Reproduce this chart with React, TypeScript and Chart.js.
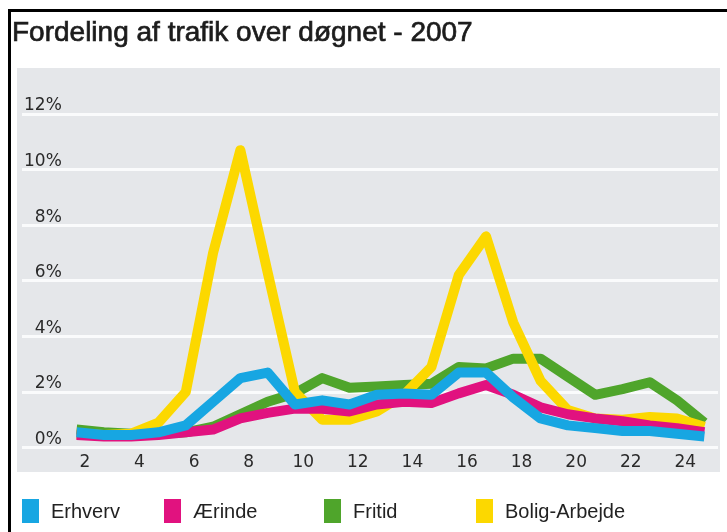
import React, { useEffect, useRef } from "react";
import { Chart, registerables } from "chart.js";

Chart.register(...registerables);

const TITLE = "Fordeling af trafik over døgnet - 2007";
const hours = [1, 2, 3, 4, 5, 6, 7, 8, 9, 10, 11, 12, 13, 14, 15, 16, 17, 18, 19, 20, 21, 22, 23, 24];
const seriesNames = ["Erhverv", "Ærinde", "Fritid", "Bolig-Arbejde"];
const erhverv = [0.55, 0.45, 0.45, 0.55, 0.8, 1.65, 2.5, 2.7, 1.55, 1.7, 1.55, 1.9, 1.95, 1.9, 2.7, 2.7, 1.8, 1.05, 0.8, 0.7, 0.6, 0.6, 0.5, 0.4];
const aerinde = [0.45, 0.4, 0.4, 0.45, 0.55, 0.65, 1.05, 1.25, 1.4, 1.4, 1.3, 1.55, 1.65, 1.6, 1.95, 2.25, 1.9, 1.45, 1.2, 1.05, 0.95, 0.8, 0.7, 0.55];
const fritid = [0.65, 0.55, 0.5, 0.5, 0.55, 0.75, 1.2, 1.65, 1.95, 2.5, 2.15, 2.2, 2.25, 2.3, 2.9, 2.85, 3.2, 3.2, 2.55, 1.9, 2.1, 2.35, 1.7, 0.9];
const boligArbejde = [0.5, 0.45, 0.5, 0.9, 2.0, 7.0, 10.7, 6.3, 2.0, 1.0, 1.0, 1.3, 1.9, 2.9, 6.2, 7.6, 4.5, 2.4, 1.35, 1.05, 1.0, 1.1, 1.05, 0.75];
const xTickValues = [2, 4, 6, 8, 10, 12, 14, 16, 18, 20, 22, 24];
const yTickValues = [0, 2, 4, 6, 8, 10, 12];

const COLORS = ["#17a6e2", "#e1127f", "#4fa52b", "#fcd800"];
const DRAW_ORDER = [0, 1, 3, 2];
const LEGEND_X = [22, 164, 324, 476];

const framePlugin = {
  id: "frame",
  beforeDraw(chart: any) {
    const { ctx, width, height } = chart;
    ctx.save();
    ctx.fillStyle = "#ffffff";
    ctx.fillRect(0, 0, width, height);
    ctx.fillStyle = "#e5e7ea";
    ctx.fillRect(17, 68, 703, 404);
    ctx.fillStyle = "#000000";
    ctx.fillRect(8, 9, 3, height - 9);
    ctx.fillRect(8, 9, width - 8, 3);
    ctx.fillStyle = "#1c1c1c";
    ctx.strokeStyle = "#1c1c1c";
    ctx.lineWidth = 0.7;
    ctx.font = '28px "Liberation Sans", Arial, sans-serif';
    ctx.textBaseline = "alphabetic";
    ctx.textAlign = "left";
    ctx.fillText(TITLE, 12, 41);
    ctx.strokeText(TITLE, 12, 41);
    ctx.restore();
  },
  afterDraw(chart: any) {
    const { ctx } = chart;
    ctx.save();
    ctx.font = '20px "Liberation Sans", Arial, sans-serif';
    ctx.textBaseline = "middle";
    ctx.textAlign = "left";
    chart.data.datasets.forEach((ds: any, i: number) => {
      const x = LEGEND_X[i];
      ctx.fillStyle = ds.borderColor;
      ctx.fillRect(x, 499, 17, 24);
      ctx.fillStyle = "#222222";
      ctx.fillText(ds.label, x + 29, 512);
    });
    ctx.restore();
  },
};

export default function App() {
  const ref = useRef<HTMLCanvasElement | null>(null);
  useEffect(() => {
    if (!ref.current) return;
    const values = [erhverv, aerinde, fritid, boligArbejde];
    const chart = new Chart(ref.current, {
      type: "line",
      data: {
        datasets: seriesNames.map((name, i) => ({
          label: name,
          data: hours.map((h, k) => ({ x: h, y: values[i][k] })),
          borderColor: COLORS[i],
          backgroundColor: COLORS[i],
          borderWidth: 10,
          pointRadius: 0,
          tension: 0,
          fill: false,
          borderJoinStyle: "round" as const,
          borderCapStyle: "butt" as const,
          order: DRAW_ORDER[i],
        })),
      },
      options: {
        responsive: false,
        animation: false,
        layout: { padding: { left: 18, right: 9, top: 114, bottom: 54 } },
        plugins: {
          legend: { display: false },
          title: { display: false },
          tooltip: { enabled: false },
        },
        scales: {
          x: {
            type: "linear",
            min: -1,
            max: 24.5,
            afterBuildTicks: (axis: any) => {
              axis.ticks = xTickValues.map((v) => ({ value: v }));
            },
            grid: { display: false, drawTicks: false },
            border: { display: false },
            ticks: {
              autoSkip: false,
              maxRotation: 0,
              padding: 5,
              labelOffset: -19,
              color: "#2a2a2a",
              font: { family: '"DejaVu Sans", sans-serif', size: 17 },
              callback: (v: any) => String(v),
            },
          },
          y: {
            type: "linear",
            min: 0,
            max: 12,
            afterBuildTicks: (axis: any) => {
              axis.ticks = yTickValues.map((v) => ({ value: v }));
            },
            grid: { color: "#fafbfc", lineWidth: 3, drawTicks: false },
            border: { display: false },
            ticks: {
              mirror: true,
              crossAlign: "far",
              padding: 2,
              labelOffset: -8,
              color: "#2a2a2a",
              font: { family: '"DejaVu Sans", sans-serif', size: 17 },
              callback: (v: any) => v + "%",
            },
          },
        },
      },
      plugins: [framePlugin],
    });
    return () => chart.destroy();
  }, []);
  return (
    <div style={{ position: "absolute", left: 0, top: 0, width: 727, height: 532 }}>
      <canvas ref={ref} width={727} height={532} style={{ display: "block" }} />
    </div>
  );
}
